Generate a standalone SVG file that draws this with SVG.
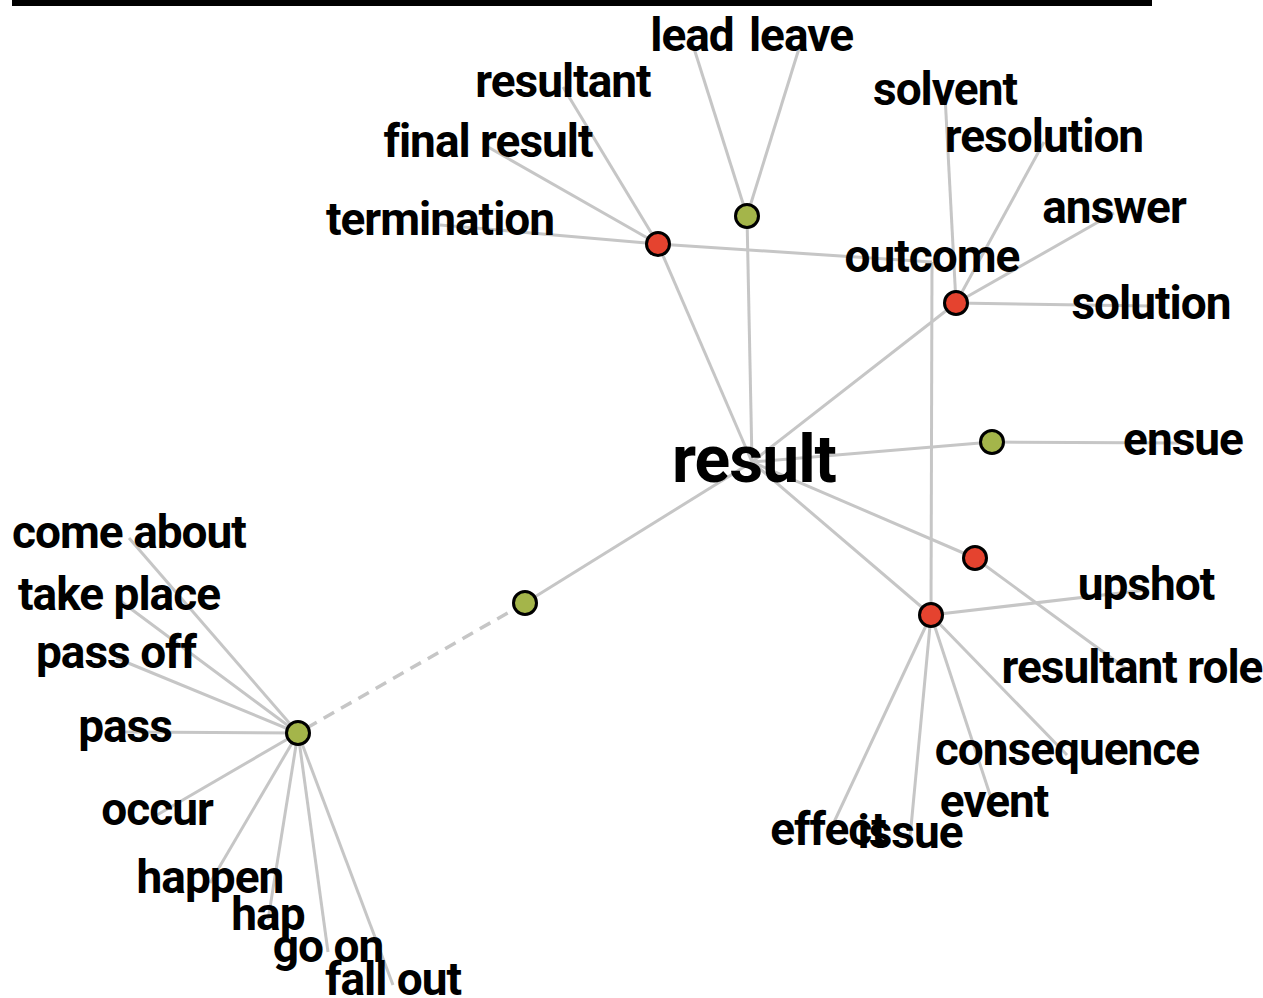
<svg xmlns="http://www.w3.org/2000/svg" width="1263" height="998" viewBox="0 0 1263 998">
  <style>
    .link { stroke: #c6c6c6; stroke-width: 3; fill: none; }
    .dash { stroke-dasharray: 12 8; stroke-width: 3.5; }
    .node { stroke: #000; stroke-width: 3; }
    .red { fill: #e5432f; }
    .green { fill: #a4b54a; }
    .lbl { font-family: Roboto, "Liberation Sans", sans-serif; font-weight: 700; font-size: 46px; fill: #000; text-anchor: middle; letter-spacing: -1px; }
    .hub { font-size: 66px; letter-spacing: -1px; }
  </style>
  <rect x="12" y="0" width="1140" height="6" fill="#000"/>

  <g id="connectors">
    <!-- hub to synset nodes -->
    <line class="link" x1="752" y1="462" x2="658" y2="244"/>
    <line class="link" x1="752" y1="462" x2="747" y2="216"/>
    <line class="link" x1="752" y1="462" x2="956" y2="303"/>
    <line class="link" x1="752" y1="462" x2="992" y2="442"/>
    <line class="link" x1="752" y1="462" x2="975" y2="558"/>
    <line class="link" x1="752" y1="462" x2="931" y2="615"/>
    <line class="link" x1="752" y1="462" x2="525" y2="603"/>
    <line class="link dash" x1="525" y1="603" x2="298" y2="733"/>
    <!-- red synset, top left -->
    <line class="link" x1="658" y1="244" x2="440" y2="225"/>
    <line class="link" x1="658" y1="244" x2="488" y2="147"/>
    <line class="link" x1="658" y1="244" x2="563" y2="87"/>
    <line class="link" x1="658" y1="244" x2="932" y2="262"/>
    <!-- green synset, top -->
    <line class="link" x1="747" y1="216" x2="692" y2="42"/>
    <line class="link" x1="747" y1="216" x2="801" y2="42"/>
    <!-- red synset, top right -->
    <line class="link" x1="956" y1="303" x2="945" y2="95"/>
    <line class="link" x1="956" y1="303" x2="1044" y2="142"/>
    <line class="link" x1="956" y1="303" x2="1114" y2="213"/>
    <line class="link" x1="956" y1="303" x2="1151" y2="306"/>
    <!-- green synset, right -->
    <line class="link" x1="992" y1="442" x2="1183" y2="443"/>
    <!-- red synset, right -->
    <line class="link" x1="975" y1="558" x2="1132" y2="673"/>
    <!-- red synset, bottom right -->
    <line class="link" x1="931" y1="615" x2="932" y2="262"/>
    <line class="link" x1="931" y1="615" x2="1146" y2="590"/>
    <line class="link" x1="931" y1="615" x2="1067" y2="755"/>
    <line class="link" x1="931" y1="615" x2="994" y2="807"/>
    <line class="link" x1="931" y1="615" x2="910" y2="838"/>
    <line class="link" x1="931" y1="615" x2="828" y2="835"/>
    <!-- green synset, left -->
    <line class="link" x1="298" y1="733" x2="129" y2="538"/>
    <line class="link" x1="298" y1="733" x2="119" y2="600"/>
    <line class="link" x1="298" y1="733" x2="116" y2="658"/>
    <line class="link" x1="298" y1="733" x2="125" y2="732"/>
    <line class="link" x1="298" y1="733" x2="157" y2="815"/>
    <line class="link" x1="298" y1="733" x2="210" y2="883"/>
    <line class="link" x1="298" y1="733" x2="268" y2="920"/>
    <line class="link" x1="298" y1="733" x2="328" y2="952"/>
    <line class="link" x1="298" y1="733" x2="393" y2="985"/>
  </g>

  <g id="synset-a"><circle class="node red" cx="658" cy="244" r="11.5"/></g>
  <g id="synset-b"><circle class="node green" cx="747" cy="216" r="11.5"/></g>
  <g id="synset-c"><circle class="node red" cx="956" cy="303" r="11.5"/></g>
  <g id="synset-d"><circle class="node green" cx="992" cy="442" r="11.5"/></g>
  <g id="synset-f"><circle class="node red" cx="975" cy="558" r="11.5"/></g>
  <g id="synset-e"><circle class="node red" cx="931" cy="615" r="11.5"/></g>
  <g id="synset-g"><circle class="node green" cx="525" cy="603" r="11.5"/></g>
  <g id="synset-h"><circle class="node green" cx="298" cy="733" r="11.5"/></g>

  <g id="word-result"><text class="lbl hub" x="754" y="482">result</text></g>
  <g id="word-lead"><text class="lbl" x="692" y="51">lead</text></g>
  <g id="word-leave"><text class="lbl" x="801" y="51">leave</text></g>
  <g id="word-resultant"><text class="lbl" x="563" y="97">resultant</text></g>
  <g id="word-final-result"><text class="lbl" x="488" y="157">final result</text></g>
  <g id="word-termination"><text class="lbl" x="440" y="235">termination</text></g>
  <g id="word-solvent"><text class="lbl" x="945" y="105">solvent</text></g>
  <g id="word-resolution"><text class="lbl" x="1044" y="152">resolution</text></g>
  <g id="word-answer"><text class="lbl" x="1114" y="223">answer</text></g>
  <g id="word-outcome"><text class="lbl" x="932" y="272">outcome</text></g>
  <g id="word-solution"><text class="lbl" x="1151" y="319">solution</text></g>
  <g id="word-ensue"><text class="lbl" x="1183" y="455">ensue</text></g>
  <g id="word-upshot"><text class="lbl" x="1146" y="600">upshot</text></g>
  <g id="word-resultant-role"><text class="lbl" x="1132" y="683">resultant role</text></g>
  <g id="word-consequence"><text class="lbl" x="1067" y="765">consequence</text></g>
  <g id="word-event"><text class="lbl" x="994" y="817">event</text></g>
  <g id="word-effect"><text class="lbl" x="828" y="845">effect</text></g>
  <g id="word-issue"><text class="lbl" x="910" y="848">issue</text></g>
  <g id="word-come-about"><text class="lbl" x="129" y="548">come about</text></g>
  <g id="word-take-place"><text class="lbl" x="119" y="610">take place</text></g>
  <g id="word-pass-off"><text class="lbl" x="116" y="668">pass off</text></g>
  <g id="word-pass"><text class="lbl" x="125" y="742">pass</text></g>
  <g id="word-occur"><text class="lbl" x="157" y="825">occur</text></g>
  <g id="word-happen"><text class="lbl" x="210" y="893">happen</text></g>
  <g id="word-hap"><text class="lbl" x="268" y="930">hap</text></g>
  <g id="word-go-on"><text class="lbl" x="328" y="962">go on</text></g>
  <g id="word-fall-out"><text class="lbl" x="393" y="995">fall out</text></g>
</svg>
